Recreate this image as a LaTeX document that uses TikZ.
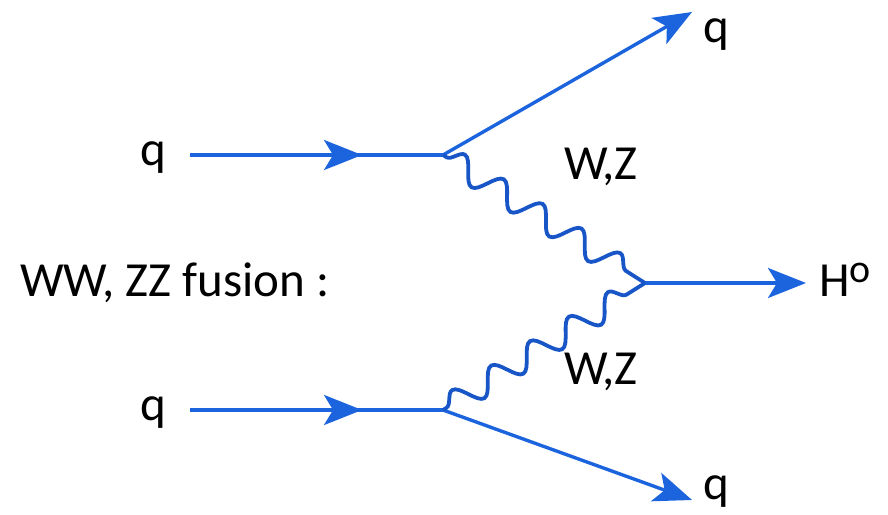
\documentclass[tikz,border=0pt]{standalone}
\usepackage{fontspec}
\setmainfont{Carlito}
\usetikzlibrary{arrows.meta,decorations.pathmorphing,decorations.markings}
\definecolor{fblue}{RGB}{28,100,222}
\definecolor{wblue}{RGB}{24,86,200}
\tikzset{
  fermion/.style={draw=fblue,line width=3.4pt},
  tiphead/.style={-{Stealth[length=38pt,width=30pt,inset=9pt]}},
  midarrow/.style={postaction={decorate},decoration={markings,
     mark=at position #1 with {\arrow[fblue]{Stealth[length=38pt,width=30pt,inset=9pt]}}}},
  boson/.style={draw=wblue,line width=3.8pt,decorate,
     decoration={snake,segment length=46pt,amplitude=12pt,pre length=4pt,post length=4pt}},
  lbl/.style={font=\fontsize{49}{60}\selectfont,inner sep=0pt,text=black}
}
\begin{document}
\begin{tikzpicture}[x=1pt,y=-1pt]
\useasboundingbox (0,0) rectangle (888,514);
% coordinates
\coordinate (a1) at (190,155);
\coordinate (v1) at (443,155);
\coordinate (a2) at (190,410);
\coordinate (v2) at (443,410);
\coordinate (vh) at (645,283);
\coordinate (o1) at (692,12);
\coordinate (o2) at (692,500);
\coordinate (oh) at (806,283);
% labels
\node[lbl] (q1) at (153,158) {q};
\node[lbl] (q2) at (153,413) {q};
\node[lbl] (q3) at (716,35) {q};
\node[lbl] (q4) at (716,492) {q};
\node[lbl,anchor=west] (h) at (819,280) {H\raisebox{14pt}{\fontsize{40}{44}\selectfont o}};
\node[lbl] (wz1) at (601,167) {W,Z};
\node[lbl] (wz2) at (601,372) {W,Z};
\node[lbl,anchor=west] (fus) at (20,283) {WW, ZZ fusion :};
% fermion lines
\draw[fermion,midarrow=0.68] (a1) -- (v1);
\draw[fermion,midarrow=0.68] (a2) -- (v2);
\draw[fermion,tiphead] (v1) -- (o1);
\draw[fermion,tiphead] (v2) -- (o2);
\draw[fermion,tiphead] (vh) -- (oh);
% bosons
\draw[boson] (v1) -- (vh);
\draw[boson] (v2) -- (vh);
\end{tikzpicture}
\end{document}
